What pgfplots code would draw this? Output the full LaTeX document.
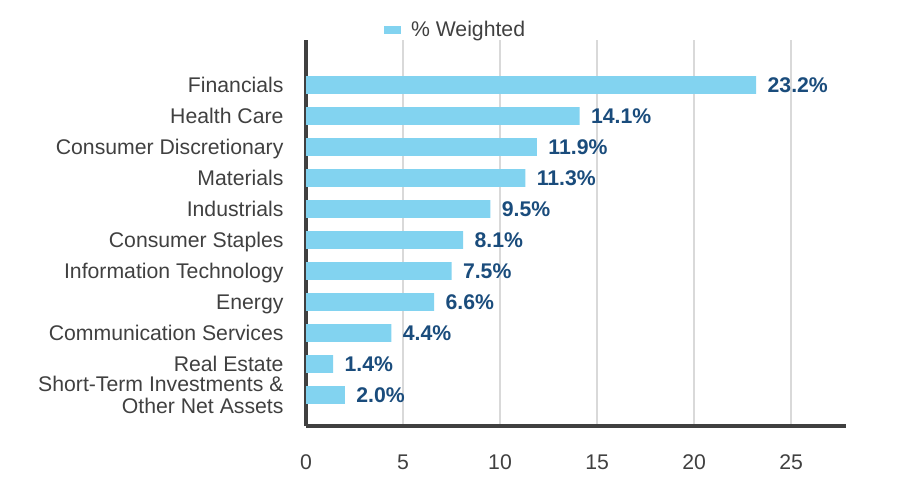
\documentclass[border=0pt]{standalone}
\usepackage{pgfplots}
\pgfplotsset{compat=1.18}
\usepackage{fontspec}
\setmainfont{Liberation Sans}
\definecolor{barblue}{HTML}{82D3F0}
\definecolor{lblblue}{HTML}{1A4C7C}
\definecolor{spine}{HTML}{404040}
\definecolor{gridc}{HTML}{D9D9D9}
\definecolor{txt}{HTML}{404040}
\begin{document}
\begin{tikzpicture}[font=\fontsize{21.3}{22}\selectfont]
\path[use as bounding box] (0bp,0bp) rectangle (900bp,492bp);
\begin{axis}[
  at={(306bp,66bp)}, anchor=south west,
  scale only axis, width=540bp, height=386bp,
  xbar, bar width=0.57,
  xmin=0, xmax=27.83, ymin=-1, ymax=11.45,
  axis x line*=bottom, axis y line*=left,
  axis line style={draw=spine, line width=3bp, -},
  xmajorgrids, grid style={draw=gridc, line width=1.5bp},
  major tick length=0pt,
  xtick={0,5,10,15,20,25},
  ytick={0,...,10},
  typeset ticklabels with strut,
  yticklabels={{\raisebox{3bp}{\begin{tabular}{@{}r@{}}Short-Term Investments \&\\Other Net Assets\end{tabular}}},{Real Estate},{Communication Services},{Energy},{Information Technology},{Consumer Staples},{Industrials},{Materials},{Consumer Discretionary},{Health Care},{Financials}},
  yticklabel style={align=right, text=txt, font=\fontsize{21.3}{22}\selectfont, xshift=-19bp, yshift=-3bp},
  xticklabel style={text=txt, font=\fontsize{21.3}{22}\selectfont, yshift=-25bp},
  /pgf/number format/assume math mode=true,
  nodes near coords={\pgfmathprintnumber[fixed,fixed zerofill,precision=1]{\pgfplotspointmeta}\%},
  point meta=x,
  every node near coord/.append style={font=\bfseries\fontsize{21.3}{22}\selectfont, text=lblblue, anchor=west, xshift=8bp},
  legend style={at={(0.277,1.026)}, anchor=center, draw=none, fill=none, text=txt, font=\fontsize{21.3}{22}\selectfont},
  legend image code/.code={\fill[barblue] (0bp,-4bp) rectangle (17bp,4bp);},
  clip=false,
]
\addplot[fill=barblue, draw=none] coordinates {
  (2.0,0) (1.4,1) (4.4,2) (6.6,3) (7.5,4) (8.1,5) (9.5,6) (11.3,7) (11.9,8) (14.1,9) (23.2,10)
};
\addlegendentry{\hspace{8bp}\% Weighted}
\end{axis}
\end{tikzpicture}
\end{document}
